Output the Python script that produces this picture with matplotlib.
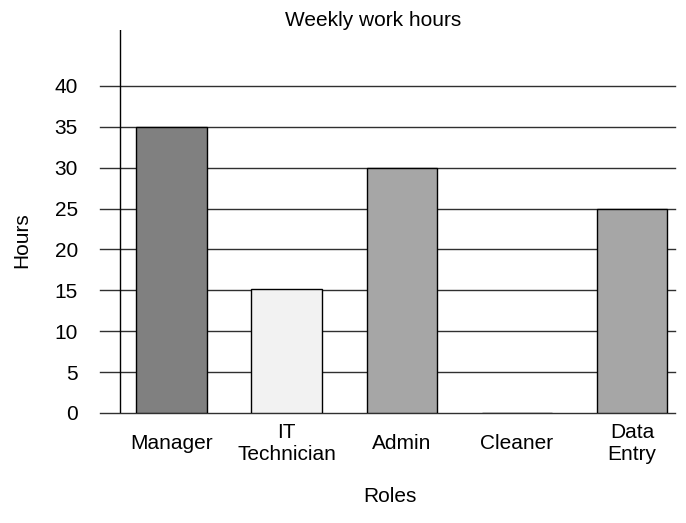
import numpy as np
import matplotlib.pyplot as plt

plt.rcParams['font.family'] = ['Liberation Sans', 'DejaVu Sans']

roles = ['Manager', 'IT\nTechnician', 'Admin', 'Cleaner', 'Data\nEntry']
hours = [35, 15.2, 30, 0, 24.9]
colors = ['#808080', '#f2f2f2', '#a6a6a6', '#a6a6a6', '#a6a6a6']
yticks = [0, 5, 10, 15, 20, 25, 30, 35, 40]

fig = plt.figure(figsize=(6.86, 5.23), dpi=100)
ax = fig.add_axes([100/686, 110/523, 575/686, 383/523])

x = np.arange(len(roles))
ax.bar(x, hours, width=0.61, color=colors, edgecolor='black', linewidth=1, zorder=3)

ax.set_xlim(-0.62, 4.374)
ax.set_ylim(0, 46.85)
ax.set_yticks(yticks)
ax.set_xticks(x)
ax.set_xticklabels(roles, linespacing=1.25)
for lab in ax.get_xticklabels():
    lab.set_va('center')
ax.tick_params(axis='y', length=0, pad=16, labelsize=15)
ax.tick_params(axis='x', length=0, pad=22, labelsize=15)
ax.yaxis.grid(True, color='#303030', linewidth=1, zorder=1)
for g in ax.get_ygridlines():
    g.set_clip_on(False)
for s in ax.spines.values():
    s.set_visible(False)
ax.axvline(-0.448, color='black', linewidth=1, zorder=2)

fig.text(373.5/686, 1 - 21/523, 'Weekly work hours', ha='center', va='center', fontsize=15)
fig.text(22/686, 1 - 240/523, 'Hours', ha='center', va='center', rotation=90, fontsize=15)
fig.text(390/686, 1 - 497/523, 'Roles', ha='center', va='center', fontsize=15)

fig.savefig('out.png', dpi=100)
